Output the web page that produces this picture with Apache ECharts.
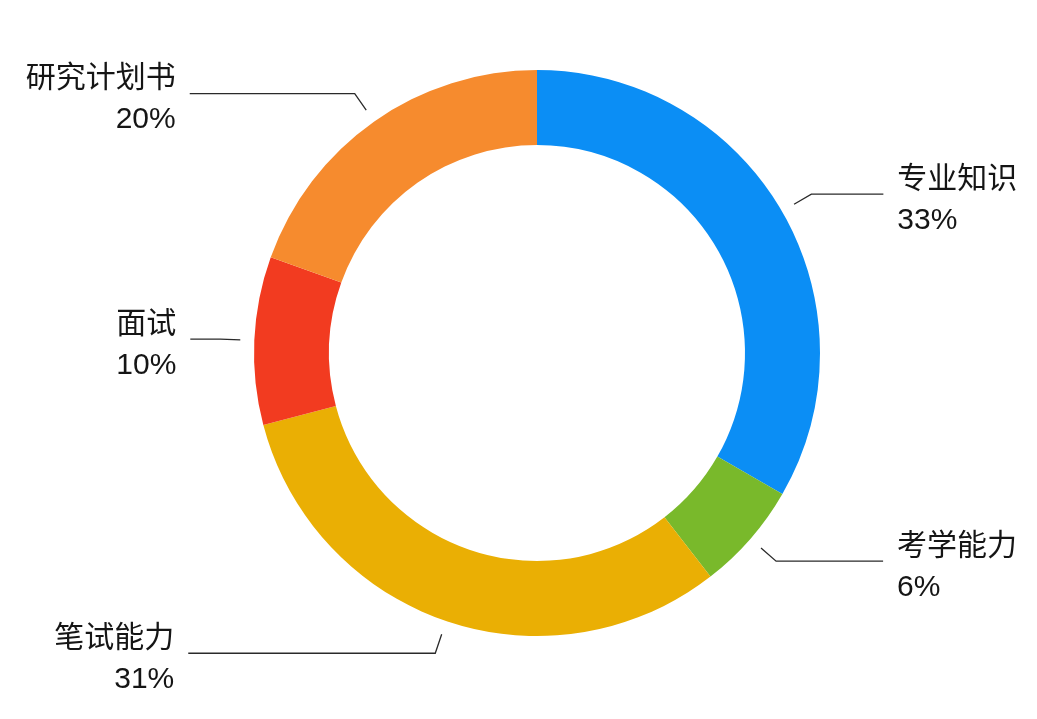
<!DOCTYPE html>
<html>
<head>
<meta charset="utf-8">
<script src="https://cdn.jsdelivr.net/npm/echarts@6/dist/echarts.min.js"></script>
<style>
  html, body { margin: 0; padding: 0; background: #ffffff; }
  #chart { width: 1037px; height: 719px; }
</style>
</head>
<body>
<div id="chart"></div>
<script>
// Categories (clockwise from 12 o'clock)
const categories = ['专业知识', '考学能力', '笔试能力', '面试', '研究计划书'];
// Shares in percent, estimated from the ring's sector angles (labels show them rounded)
const shares = [33.3, 6.2, 31.4, 9.6, 19.5];
// Sector colours
const colors = ['#0B8EF5', '#79B92B', '#EAAF04', '#F23B20', '#F68B2E'];
// Horizontal label-line length per item, so that line ends line up on each side
const labelLen2 = [72, 107, 247, 30, 165];

const fontFamily = '"Liberation Sans", "Noto Sans CJK SC", sans-serif';

const chart = echarts.init(document.getElementById('chart'), null, { renderer: 'canvas' });

const ringData = categories.map((name, i) => ({
  name: name,
  value: shares[i],
  itemStyle: { color: colors[i] }
}));

const labelData = categories.map((name, i) => ({
  name: name,
  value: shares[i],
  labelLine: { length2: labelLen2[i] }
}));

chart.setOption({
  backgroundColor: '#ffffff',
  animation: false,
  series: [
    {
      type: 'pie',
      center: [537, 353],
      radius: [208, 283],
      startAngle: 90,
      clockwise: true,
      silent: true,
      avoidLabelOverlap: false,
      itemStyle: { borderWidth: 0 },
      label: { show: false },
      labelLine: { show: false },
      emphasis: { disabled: true },
      data: ringData
    },
    {
      // invisible carrier for the outside labels, so the lines start a little off the ring
      type: 'pie',
      center: [537, 353],
      radius: [0, 297],
      startAngle: 90,
      clockwise: true,
      silent: true,
      z: 1,
      avoidLabelOverlap: false,
      itemStyle: { color: 'rgba(0,0,0,0)', borderWidth: 0 },
      emphasis: { disabled: true },
      label: {
        show: true,
        position: 'outside',
        alignTo: 'none',
        distanceToLabelLine: 14,
        bleedMargin: 5,
        fontFamily: fontFamily,
        fontSize: 30,
        lineHeight: 41,
        color: '#151515',
        formatter: p => '{gap| }\n{txt|' + p.name + '}\n{txt|' + Math.round(p.value) + '%}',
        rich: {
          gap: { fontSize: 6, lineHeight: 12 },
          txt: { fontFamily: fontFamily, fontSize: 30, lineHeight: 41, color: '#151515' }
        }
      },
      labelLine: {
        show: true,
        length: 20,
        length2: 30,
        smooth: false,
        lineStyle: { color: '#2a2a2a', width: 1.3 }
      },
      data: labelData
    }
  ]
});
</script>
</body>
</html>
